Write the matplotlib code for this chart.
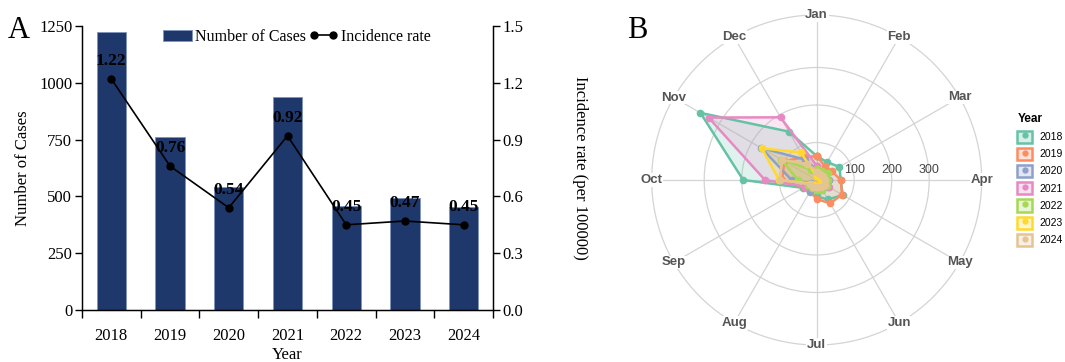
import numpy as np
import matplotlib
matplotlib.use("Agg")
import matplotlib.pyplot as plt
from matplotlib.patches import Patch
from matplotlib.lines import Line2D

# ---------------- data ----------------
years = ["2018", "2019", "2020", "2021", "2022", "2023", "2024"]
cases = [1222, 760, 540, 936, 459, 492, 452]
incidence = [1.22, 0.76, 0.54, 0.92, 0.45, 0.47, 0.45]

months = ["Jan", "Feb", "Mar", "Apr", "May", "Jun",
          "Jul", "Aug", "Sep", "Oct", "Nov", "Dec"]
monthly_2018 = [64, 55, 70, 64, 80, 60, 44, 38, 42, 196, 358, 149]
monthly_2019 = [64, 43, 47, 64, 78, 72, 51, 35, 40, 92, 100, 70]
monthly_2020 = [28, 25, 22, 32, 35, 25, 22, 34, 17, 67, 170, 63]
monthly_2021 = [38, 25, 30, 29, 38, 30, 25, 22, 35, 138, 333, 193]
monthly_2022 = [30, 28, 36, 30, 33, 30, 28, 25, 26, 50, 109, 32]
monthly_2023 = [10, 12, 15, 12, 20, 15, 18, 15, 19, 100, 169, 85]
monthly_2024 = [22, 20, 20, 22, 25, 22, 20, 22, 22, 98, 107, 50]
monthly = [monthly_2018, monthly_2019, monthly_2020, monthly_2021,
           monthly_2022, monthly_2023, monthly_2024]
year_colors = ["#66c2a5", "#fc8d62", "#8da0cb", "#e78ac3",
               "#a6d854", "#ffd92f", "#e5c494"]
radial_ticks = [0, 100, 200, 300]
radial_max = 440

# ---------------- figure ----------------
W, H = 1065, 362
fig = plt.figure(figsize=(W / 100, H / 100), dpi=100)

serif = "Liberation Serif"
sans = "Liberation Sans"

# ----- panel A: bars + incidence line -----
axA = fig.add_axes([82 / W, 1 - 310 / H, 411 / W, 284 / H])
x = np.arange(len(years))
axA.bar(x, cases, width=0.5, color="#1f386b", edgecolor="#7f93bd",
        linewidth=0.6, zorder=2)
axA.set_xlim(-0.5, len(years) - 0.5)
axA.set_ylim(0, 1250)
axA.set_yticks([0, 250, 500, 750, 1000, 1250])
axA.set_xticks(x)
axA.set_xticklabels(years)
axA.set_xticks(np.arange(-0.5, len(years), 1.0), minor=True)
axA.tick_params(axis="x", which="major", length=0, pad=13)
axA.tick_params(axis="x", which="minor", length=6, width=1, direction="out")
axA.tick_params(axis="y", length=5, width=1, direction="out", pad=2)
for lab in axA.get_xticklabels() + axA.get_yticklabels():
    lab.set_fontfamily(serif)
    lab.set_fontsize(12)
axA.spines["top"].set_visible(False)
for s in ("left", "bottom", "right"):
    axA.spines[s].set_linewidth(1.0)
axA.set_xlabel("Year", fontfamily=serif, fontsize=12, labelpad=2)
axA.set_ylabel("Number of Cases", fontfamily=serif, fontsize=12, labelpad=6)

axR = axA.twinx()
axR.set_ylim(0, 1.5)
axR.set_yticks([0.0, 0.3, 0.6, 0.9, 1.2, 1.5])
axR.set_yticklabels([f"{v:.1f}" for v in [0.0, 0.3, 0.6, 0.9, 1.2, 1.5]])
axR.tick_params(axis="y", length=5, width=1, direction="out", pad=2)
for lab in axR.get_yticklabels():
    lab.set_fontfamily(serif)
    lab.set_fontsize(12)
axR.spines["top"].set_visible(False)
axR.plot(x, incidence, color="black", linewidth=1.2, marker="o",
         markersize=5, zorder=3)
for xi, v in zip(x, incidence):
    axR.annotate(f"{v:.2f}", (xi, v), xytext=(0, 7), textcoords="offset points",
                 ha="center", va="bottom", fontfamily=serif, fontsize=12.5,
                 fontweight="bold")
axR.set_ylabel("Incidence rate (per 100000)", fontfamily=serif, fontsize=12,
               rotation=270, labelpad=46)

handles = [Patch(facecolor="#1f386b", edgecolor="#7f93bd", linewidth=0.6),
           Line2D([], [], color="black", linewidth=1.2, marker="o", markersize=5)]
axR.legend(handles, ["Number of Cases", "Incidence rate"], loc="center",
           bbox_to_anchor=(0.523, 0.961), ncol=2, frameon=False,
           prop={"family": serif, "size": 11.5}, handlelength=1.8,
           handletextpad=0.2, columnspacing=0.2, numpoints=2)

fig.text(8 / W, 1 - 30 / H, "A", fontfamily=serif, fontsize=22, va="center",
         ha="left")

# ----- panel B: monthly radar -----
cx, cy, R = 816.7, 180.0, 165.0
axB = fig.add_axes([(cx - R) / W, 1 - (cy + R) / H, 2 * R / W, 2 * R / H],
                   projection="polar")
axB.set_theta_zero_location("N")
axB.set_theta_direction(-1)
theta = np.linspace(0, 2 * np.pi, len(months), endpoint=False)
axB.set_ylim(0, radial_max)
axB.set_xticks(theta)
axB.set_xticklabels([])
axB.set_yticks(radial_ticks[1:])
axB.set_yticklabels([])
axB.grid(True, color="#d4d4d4", linewidth=0.9)
axB.spines["polar"].set_color("#d4d4d4")
axB.spines["polar"].set_linewidth(0.9)
axB.tick_params(length=0)

for th, m in zip(theta, months):
    axB.text(th, radial_max, m, ha="center", va="center", fontfamily=sans,
             fontsize=9.5, fontweight="bold", color="#555555",
             bbox=dict(facecolor="white", edgecolor="none", pad=0.5))
for r in radial_ticks:
    axB.annotate(str(r), (np.pi / 2, r), xytext=(0, 7),
                 textcoords="offset points", ha="center", va="center",
                 fontfamily=sans, fontsize=9, color="#444444")

theta_closed = np.append(theta, theta[0])
for vals, col in zip(monthly, year_colors):
    v = np.append(vals, vals[0])
    axB.fill(theta_closed, v, color=col, alpha=0.2, zorder=2)
    axB.plot(theta_closed, v, color=col, linewidth=1.8, marker="o",
             markersize=4.5, zorder=3)

leg_handles = []
for col in year_colors:
    sq = Patch(facecolor=matplotlib.colors.to_rgba(col, 0.25), edgecolor=col,
               linewidth=1.8)
    dot = Line2D([], [], linestyle="none", marker="o", markersize=3.5,
                 color=col)
    leg_handles.append((sq, dot))
legB = fig.legend(leg_handles, years, loc="upper left",
                  bbox_to_anchor=(1009 / W, 1 - 105 / H), frameon=False,
                  prop={"family": sans, "size": 7.5}, handlelength=1.4,
                  handleheight=1.4, handletextpad=0.7, labelspacing=0.5,
                  borderpad=0.3, title="Year", alignment="left",
                  title_fontproperties={"family": sans, "size": 8.5,
                                        "weight": "bold"})

fig.text(627 / W, 1 - 30 / H, "B", fontfamily=serif, fontsize=22, va="center",
         ha="left")

fig.savefig("out.png", dpi=100)
